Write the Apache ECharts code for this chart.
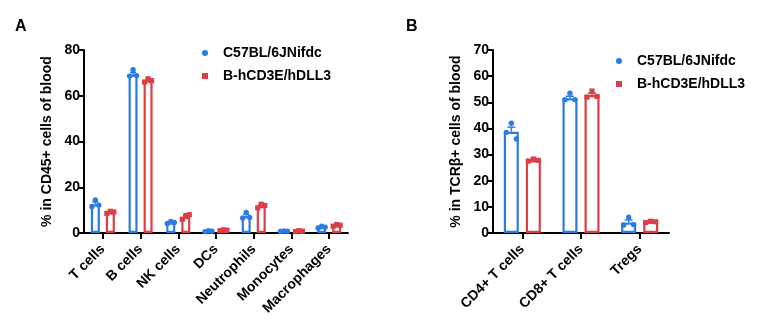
<!DOCTYPE html>
<html><head><meta charset="utf-8">
<script src="https://cdn.jsdelivr.net/npm/echarts@6/dist/echarts.min.js"></script>
<style>html,body{margin:0;padding:0;background:#fff}#c{width:759px;height:331px}</style>
</head><body><div id="c"></div>
<script>
// ---- Data ----
const seriesNames = ['C57BL/6JNifdc', 'B-hCD3E/hDLL3'];
const catsA = ['T cells','B cells','NK cells','DCs','Neutrophils','Monocytes','Macrophages'];
const meanA_wt = [12.6, 69.2, 4.6, 0.8, 7.4, 0.8, 2.6];
const meanA_tg = [9.0, 66.6, 7.0, 1.2, 11.8, 0.8, 3.4];
const errA_wt = [1.0, 0.9, 0.3, 0.1, 0.8, 0.1, 0.3];
const errA_tg = [0.3, 0.4, 0.6, 0.1, 0.5, 0.1, 0.2];
// three animals per group, listed left / middle / right
const ptsA_wt = [[11.5,14.4,12.2],[68.6,71.4,68.8],[4.2,5.0,4.6],[0.6,1.0,0.8],[6.6,9.0,6.8],[0.7,0.9,0.8],[2.2,3.0,2.5]];
const ptsA_tg = [[8.6,9.5,9.2],[66.0,67.4,66.6],[6.0,7.6,8.0],[1.0,1.4,1.2],[11.0,12.6,12.0],[0.6,1.0,0.8],[3.0,3.7,3.4]];
const ticksA = [0,20,40,60,80];

const catsB = ['CD4+ T cells','CD8+ T cells','Tregs'];
const meanB_wt = [38.7, 51.5, 4.0];
const meanB_tg = [27.8, 52.8, 4.3];
const errB_wt = [1.8, 0.8, 1.0];
const errB_tg = [0.2, 0.7, 0.2];
const ptsB_wt = [[38.5,42.0,36.0],[51.0,53.5,51.0],[3.0,6.0,3.2]];
const ptsB_tg = [[27.5,28.3,27.8],[52.0,54.3,52.2],[4.0,4.5,4.3]];
const ticksB = [0,10,20,30,40,50,60,70];

// ---- Style ----
const BLUE = '#2b7be4', RED = '#db3f46';
const FONT = 'Liberation Sans, Arial, sans-serif';
const chart = echarts.init(document.getElementById('c'), null, {renderer:'canvas'});

function errSeries(name, xi, means, errs, off, cap, color){
  return {
    type:'custom', name:name, xAxisIndex:xi, yAxisIndex:xi, z:5,
    data: means.map((m,i)=>[i,m,errs[i]]),
    renderItem:(params, api)=>{
      const i = api.value(0), m = api.value(1), e = api.value(2);
      const p0 = api.coord([i, m]), p1 = api.coord([i, m+e]);
      const x = p0[0] + off;
      return {type:'group', children:[
        {type:'line', shape:{x1:x,y1:p0[1],x2:x,y2:p1[1]}, style:{stroke:color, lineWidth:1.5}},
        {type:'line', shape:{x1:x-cap,y1:p1[1],x2:x+cap,y2:p1[1]}, style:{stroke:color, lineWidth:1.5}}
      ]};
    }
  };
}
function ptSeries(name, xi, pts, off, jit, color, shape){
  const data = [];
  pts.forEach((arr,i)=>arr.forEach((v,j)=>data.push([i,v,j])));
  return {
    type:'custom', name:name, xAxisIndex:xi, yAxisIndex:xi, z:6,
    data: data,
    renderItem:(params, api)=>{
      const i = api.value(0), v = api.value(1), j = api.value(2);
      const p = api.coord([i, v]);
      const x = p[0] + off + (j-1)*jit;
      if (shape==='circle') return {type:'circle', shape:{cx:x, cy:p[1], r:2.7}, style:{fill:color}};
      return {type:'rect', shape:{x:x-2.6, y:p[1]-2.6, width:5.2, height:5.2}, style:{fill:color}};
    }
  };
}
function barSeries(name, xi, data, color, w, gap){
  return {type:'bar', name:name, xAxisIndex:xi, yAxisIndex:xi, data:data, barWidth:w, barGap:gap, z:2,
    itemStyle:{color:'#fff', borderColor:color, borderWidth:2.2}};
}
const axisLabelStyle = {color:'#000', fontFamily:FONT, fontWeight:'bold', fontSize:14};
function yAx(gi, ticks, name){
  return {type:'value', gridIndex:gi, min:ticks[0], max:ticks[ticks.length-1], interval:ticks[1]-ticks[0],
    name:name, nameLocation:'middle', nameGap:30, nameRotate:90,
    nameTextStyle:{color:'#000', fontFamily:FONT, fontWeight:'bold', fontSize:14},
    axisLine:{show:true, lineStyle:{color:'#000', width:2}},
    axisTick:{show:true, length:5, lineStyle:{color:'#000', width:2}},
    axisLabel:Object.assign({margin:4}, axisLabelStyle),
    splitLine:{show:false}};
}
function xAx(gi, cats){
  return {type:'category', gridIndex:gi, data:cats,
    axisLine:{lineStyle:{color:'#000', width:2}},
    axisTick:{show:true, alignWithLabel:true, length:6, lineStyle:{color:'#000', width:2}},
    axisLabel:Object.assign({rotate:45, margin:14, interval:0}, axisLabelStyle)};
}
function legend(left, top){
  return {left:left, top:top, orient:'vertical', itemGap:9, itemWidth:6, itemHeight:6, padding:0,
     textStyle:{fontFamily:FONT, fontWeight:'bold', fontSize:14, color:'#000', padding:[0,0,0,10]},
     data:[{name:seriesNames[0], icon:'circle', itemStyle:{color:BLUE, borderWidth:0}},
           {name:seriesNames[1], icon:'rect', itemStyle:{color:RED, borderWidth:0}}]};
}
const offA = 7.5, offB = 11;
chart.setOption({
  animation:false,
  textStyle:{fontFamily:FONT},
  title:[
    {text:'A', left:15, top:19, padding:0, textStyle:{fontFamily:FONT, fontWeight:'bold', fontSize:16, color:'#000'}},
    {text:'B', left:406, top:19, padding:0, textStyle:{fontFamily:FONT, fontWeight:'bold', fontSize:16, color:'#000'}}
  ],
  legend:[legend(202, 46), legend(616, 54)],
  grid:[
    {left:84, top:50, width:264, height:183},
    {left:493, top:50, width:176, height:183}
  ],
  xAxis:[xAx(0, catsA), xAx(1, catsB)],
  yAxis:[yAx(0, ticksA, '% in CD45+ cells of blood'), yAx(1, ticksB, '% in TCRβ+ cells of blood')],
  series:[
    barSeries(seriesNames[0], 0, meanA_wt, BLUE, 9, '67%'),
    barSeries(seriesNames[1], 0, meanA_tg, RED, 9, '67%'),
    errSeries(seriesNames[0], 0, meanA_wt, errA_wt, -offA, 3, BLUE),
    errSeries(seriesNames[1], 0, meanA_tg, errA_tg, offA, 3, RED),
    ptSeries(seriesNames[0], 0, ptsA_wt, -offA, 3.5, BLUE, 'circle'),
    ptSeries(seriesNames[1], 0, ptsA_tg, offA, 3.5, RED, 'rect'),
    barSeries(seriesNames[0], 1, meanB_wt, BLUE, 15, '47%'),
    barSeries(seriesNames[1], 1, meanB_tg, RED, 15, '47%'),
    errSeries(seriesNames[0], 1, meanB_wt, errB_wt, -offB, 4, BLUE),
    errSeries(seriesNames[1], 1, meanB_tg, errB_tg, offB, 4, RED),
    ptSeries(seriesNames[0], 1, ptsB_wt, -offB, 5, BLUE, 'circle'),
    ptSeries(seriesNames[1], 1, ptsB_tg, offB, 5, RED, 'rect')
  ]
});
</script></body></html>
